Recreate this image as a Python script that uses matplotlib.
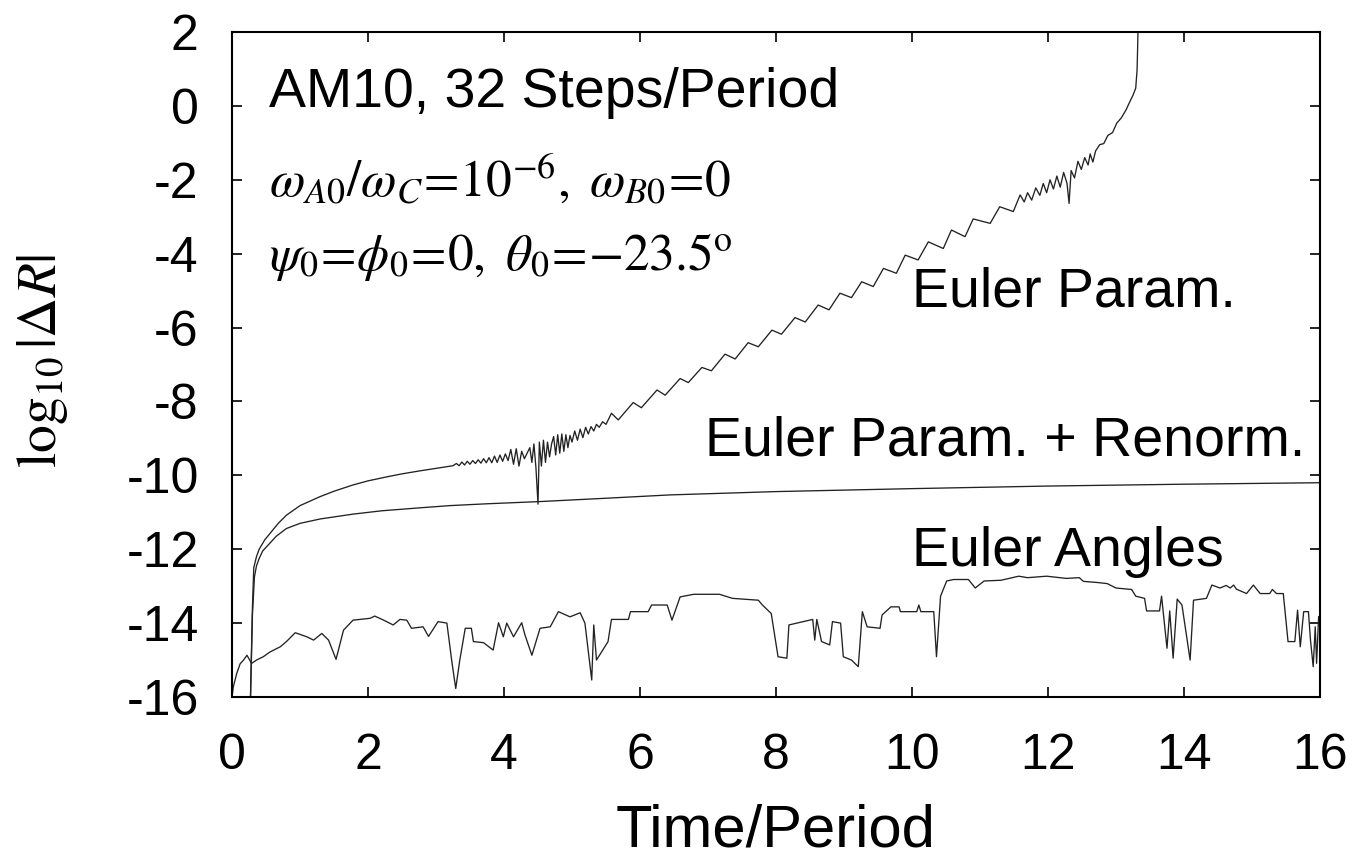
import matplotlib
matplotlib.use("Agg")
import matplotlib.pyplot as plt

# Euler parameters (no renormalisation)
ep_t = [0.26, 0.30, 0.32, 0.36, 0.40, 0.48, 0.56, 0.68, 0.80, 1.00, 1.29, 1.50,
        1.78, 2.00, 2.28, 2.50, 2.76, 3.00, 3.25,
        3.30, 3.34, 3.38, 3.42, 3.46, 3.50, 3.54, 3.58, 3.62, 3.66, 3.70, 3.74,
        3.78, 3.82, 3.86, 3.90, 3.94, 3.98, 4.02, 4.06, 4.10, 4.14, 4.18, 4.22,
        4.26, 4.30, 4.34, 4.38, 4.41, 4.44, 4.47, 4.50, 4.52, 4.55, 4.58, 4.61,
        4.64, 4.67, 4.70, 4.73, 4.76, 4.79, 4.82, 4.85, 4.88, 4.91, 4.94, 4.97,
        5.00, 5.04, 5.08, 5.12, 5.16, 5.20, 5.24, 5.28, 5.32, 5.36, 5.40, 5.45,
        5.50,
        5.58, 5.68, 5.90, 6.02, 6.25, 6.37, 6.59, 6.71, 6.91, 7.05, 7.25, 7.40,
        7.59, 7.74, 7.94, 8.08, 8.28, 8.43, 8.62, 8.78, 8.94, 9.11, 9.26, 9.43,
        9.58, 9.77, 9.90, 10.09, 10.24, 10.46, 10.58, 10.78, 10.90, 11.15, 11.29,
        11.49,
        11.59, 11.65, 11.70, 11.76, 11.82, 11.88, 11.93, 11.98, 12.03, 12.08,
        12.13, 12.18, 12.23, 12.28, 12.31, 12.34, 12.39, 12.44, 12.49, 12.54,
        12.59, 12.62, 12.66, 12.70, 12.76, 12.82, 12.88, 12.95, 13.01, 13.08,
        13.15, 13.20, 13.25, 13.29, 13.31, 13.33]
ep_v = [-17.0, -13.6, -12.5, -12.2, -12.0, -11.75, -11.57, -11.30, -11.08, -10.82,
        -10.58, -10.43, -10.26, -10.15, -10.04, -9.96, -9.88, -9.81, -9.74,
        -9.68, -9.74, -9.64, -9.72, -9.62, -9.70, -9.60, -9.68, -9.58, -9.67,
        -9.55, -9.66, -9.52, -9.66, -9.48, -9.65, -9.45, -9.62, -9.42, -9.60,
        -9.30, -9.70, -9.28, -9.75, -9.35, -9.55, -9.40, -9.25, -9.65, -9.15,
        -9.80, -10.78, -9.10, -9.75, -9.05, -9.65, -9.10, -9.50, -9.15, -8.95,
        -9.45, -8.90, -9.40, -8.88, -9.35, -8.90, -9.25, -8.92, -9.10, -8.80,
        -9.05, -8.75, -8.98, -8.70, -8.88, -8.68, -8.80, -8.62, -8.70, -8.55,
        -8.62,
        -8.32, -8.50, -8.03, -8.17, -7.69, -7.83, -7.38, -7.49, -7.08, -7.17,
        -6.72, -6.85, -6.41, -6.52, -6.07, -6.18, -5.73, -5.85, -5.39, -5.52,
        -5.07, -5.19, -4.76, -4.89, -4.40, -4.53, -4.04, -4.17, -3.68, -3.86,
        -3.36, -3.54, -3.06, -3.18, -2.73, -2.86,
        -2.41, -2.60, -2.35, -2.55, -2.22, -2.42, -2.10, -2.35, -2.00, -2.25,
        -1.90, -2.20, -1.80, -2.10, -2.64, -1.75, -1.95, -1.50, -1.72, -1.40,
        -1.60, -1.30, -1.52, -1.22, -1.05, -1.02, -0.80, -0.72, -0.47, -0.32,
        -0.10, 0.10, 0.29, 0.48, 0.97, 2.5]

# Euler parameters + renormalisation
rn_t = [0.26, 0.30, 0.33, 0.36, 0.40, 0.45, 0.55, 0.65, 0.80, 1.00, 1.30, 1.78,
        2.20, 2.76, 3.20, 3.75, 4.53, 5.50, 6.44, 8.00, 10.00, 12.00, 14.00, 16.00]
rn_v = [-17.0, -13.8, -12.75, -12.45, -12.25, -12.05, -11.85, -11.65, -11.44,
        -11.30, -11.18, -11.05, -10.96, -10.88, -10.82, -10.77, -10.71, -10.62,
        -10.53, -10.44, -10.36, -10.29, -10.24, -10.20]

# Euler angles
ea_t = [0.00, 0.02, 0.07, 0.12, 0.17, 0.22, 0.26, 0.29, 0.36, 0.46, 0.56, 0.71,
        0.80, 0.93, 1.10, 1.20, 1.32, 1.42, 1.53, 1.64, 1.78, 2.03, 2.10, 2.23,
        2.37, 2.47, 2.57, 2.64, 2.81, 2.89, 3.03, 3.16, 3.23, 3.29, 3.35, 3.43,
        3.52, 3.55, 3.70, 3.84, 3.92, 3.99, 4.04, 4.14, 4.26, 4.31, 4.41, 4.53,
        4.68, 4.80, 4.97, 5.12, 5.19, 5.29, 5.32, 5.36, 5.53, 5.58, 5.83, 5.86,
        6.12, 6.17, 6.40, 6.47, 6.59, 6.79, 7.17, 7.36, 7.74, 7.80, 7.93, 8.03,
        8.16, 8.19, 8.54, 8.57, 8.60, 8.67, 8.79, 8.83, 8.95, 8.99, 9.11, 9.21,
        9.27, 9.34, 9.53, 9.56, 9.69, 9.81, 9.83, 10.07, 10.10, 10.13, 10.32,
        10.36, 10.42, 10.51, 10.61, 10.83, 10.93, 11.06, 11.31, 11.57, 11.70,
        11.98, 12.27, 12.46, 12.52, 12.72, 12.87, 13.00, 13.23, 13.29, 13.42,
        13.45, 13.64, 13.67, 13.75, 13.79, 13.84, 13.90, 13.97, 14.09, 14.14,
        14.33, 14.41, 14.53, 14.62, 14.68, 14.73, 14.77, 14.92, 15.02, 15.12,
        15.26, 15.30, 15.36, 15.46, 15.53, 15.63, 15.67, 15.71, 15.76, 15.83,
        15.86, 15.90, 15.93, 15.95, 15.98, 16.00]
ea_v = [-16.0, -15.72, -15.36, -15.10, -15.00, -14.87, -15.00, -15.09, -15.00,
        -14.91, -14.78, -14.64, -14.50, -14.26, -14.37, -14.46, -14.28, -14.46,
        -14.98, -14.19, -13.92, -13.87, -13.81, -13.92, -14.05, -13.90, -13.92,
        -14.14, -14.10, -14.36, -13.96, -14.00, -15.00, -15.77, -15.00, -14.14,
        -14.14, -14.50, -14.53, -14.73, -13.99, -14.37, -14.00, -14.37, -13.99,
        -14.33, -14.87, -14.14, -14.10, -13.69, -13.83, -13.72, -14.00, -15.54,
        -14.05, -15.00, -14.50, -13.90, -13.90, -13.69, -13.69, -13.51, -13.51,
        -13.92, -13.29, -13.22, -13.22, -13.33, -13.38, -13.51, -13.74, -14.91,
        -14.95, -14.05, -13.90, -14.46, -13.90, -14.50, -14.59, -13.96, -14.00,
        -14.91, -15.00, -15.18, -13.69, -14.10, -14.14, -13.78, -13.56, -13.56,
        -13.69, -13.69, -13.51, -13.69, -13.69, -14.91, -13.27, -12.86, -12.82,
        -12.82, -13.05, -12.86, -12.84, -12.73, -12.77, -12.73, -12.79, -12.77,
        -12.87, -12.90, -12.93, -13.05, -13.09, -13.27, -13.33, -13.67, -13.67,
        -13.27, -14.68, -13.67, -14.95, -13.35, -13.51, -15.00, -13.38, -13.33,
        -12.97, -13.05, -12.98, -13.05, -12.97, -13.08, -13.20, -12.97, -13.20,
        -13.20, -13.09, -13.20, -13.20, -14.50, -14.50, -13.65, -14.64, -13.69,
        -13.69, -14.46, -15.18, -14.10, -15.09, -13.82, -14.00]

xticks = [0, 2, 4, 6, 8, 10, 12, 14, 16]
yticks = [2, 0, -2, -4, -6, -8, -10, -12, -14, -16]

plt.rcParams['font.family'] = ['Liberation Sans', 'DejaVu Sans']
plt.rcParams['mathtext.fontset'] = 'stix'
plt.rcParams['axes.unicode_minus'] = False

fig = plt.figure(figsize=(13.55, 8.64), dpi=100)
ax = fig.add_axes([232 / 1355, 1 - 697 / 864, 1088 / 1355, 665 / 864])

line_kw = dict(color='#222222', lw=0.95)
ax.plot(ep_t, ep_v, **line_kw)
ax.plot(rn_t, rn_v, **line_kw)
ax.plot(ea_t, ea_v, **line_kw)

ax.set_xlim(0, 16)
ax.set_ylim(-16, 2)
ax.set_xticks(xticks)
ax.set_yticks(yticks)
ax.tick_params(direction='in', length=7, width=1.2, top=True, right=True,
               labelsize=36)
ax.tick_params(axis='x', pad=26)
ax.tick_params(axis='y', pad=24)
for s in ax.spines.values():
    s.set_linewidth(1.5)

ax.set_xlabel('Time/Period', fontsize=43)
ax.xaxis.set_label_coords(0.5, -0.16)
ax.set_ylabel(r'$\log_{10}|\mathit{\Delta R}|$', fontsize=40)
ax.yaxis.set_label_coords(-0.149, 0.505)

ax.text(0.55, -0.03, 'AM10, 32 Steps/Period', fontsize=40, va='baseline')
ax.text(0.55, -2.45, r'$\omega_{A0}/\omega_{C}\!=\!10^{-6},\ \omega_{B0}\!=\!0$',
        fontsize=37, va='baseline')
ax.text(0.55, -4.44, r'$\psi_0\!=\!\phi_0\!=\!0,\ \theta_0\!=\!{-}23.5^{\mathrm{o}}$',
        fontsize=37, va='baseline')

ax.text(10.0, -5.44, 'Euler Param.', fontsize=40, va='baseline')
ax.text(6.95, -9.45, 'Euler Param. + Renorm.', fontsize=40, va='baseline')
ax.text(10.0, -12.46, 'Euler Angles', fontsize=40, va='baseline')

fig.savefig('out.png', dpi=100)
